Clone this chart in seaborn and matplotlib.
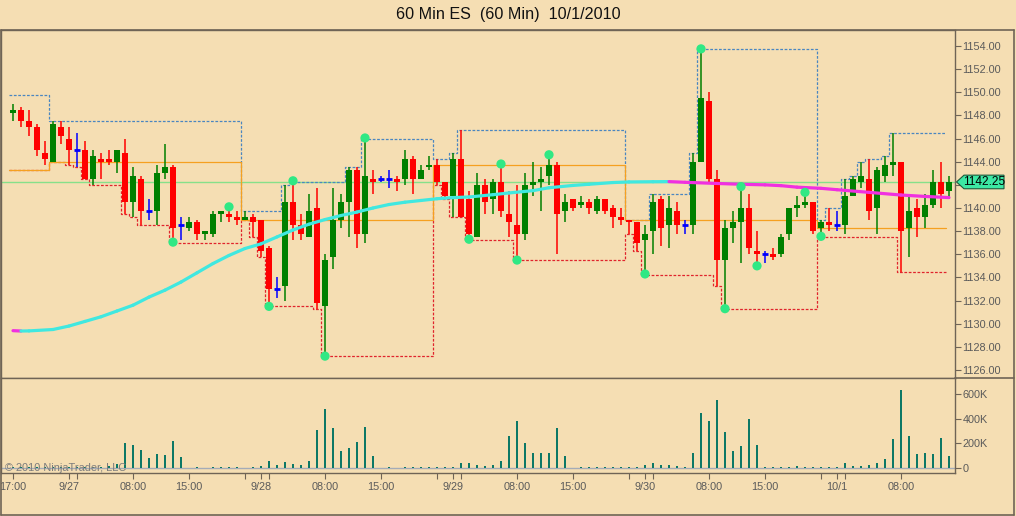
import numpy as np
import pandas as pd
import seaborn as sns
import matplotlib
matplotlib.use("Agg")
import matplotlib.pyplot as plt
from matplotlib.lines import Line2D
from matplotlib.patches import Polygon

# ---------------- data ----------------
opens = [1148.25, 1148.5, 1147.5, 1147.0, 1144.75, 1144.0, 1147.0, 1146.0, 1145.0, 1145.0,
         1142.5, 1144.25, 1144.25, 1144.0, 1144.75, 1140.5, 1142.5, 1139.75, 1139.75, 1143.0,
         1143.5, 1138.5, 1138.25, 1138.75, 1137.75, 1137.75, 1139.5, 1139.5, 1139.25, 1139.0,
         1139.25, 1139.0, 1136.5, 1133.0, 1133.25, 1140.5, 1138.5, 1137.5, 1140.0, 1131.5,
         1135.75, 1139.0, 1140.5, 1143.25, 1137.75, 1142.5, 1142.5, 1142.5, 1142.5, 1142.5,
         1144.25, 1142.5, 1143.5, 1143.75, 1142.25, 1141.0, 1144.25, 1140.75, 1137.5, 1142.0,
         1140.75, 1142.25, 1139.5, 1138.5, 1137.75, 1142.0, 1142.25, 1142.75, 1143.75, 1139.75,
         1140.75, 1140.25, 1140.5, 1139.75, 1140.75, 1140.0, 1139.25, 1139.0, 1138.75, 1137.25,
         1138.0, 1140.75, 1138.5, 1139.75, 1138.5, 1138.5, 1144.0, 1149.25, 1142.5, 1135.5,
         1138.25, 1138.75, 1140.0, 1136.25, 1136.0, 1136.0, 1136.0, 1137.75, 1140.0, 1140.25,
         1140.5, 1138.25, 1138.75, 1138.5, 1138.5, 1141.0, 1142.25, 1142.5, 1140.0, 1142.75,
         1143.75, 1144.0, 1138.25, 1140.0, 1139.25, 1140.25, 1142.25, 1141.5]
highs = [1149.0, 1148.75, 1148.5, 1147.25, 1145.75, 1147.5, 1147.5, 1147.0, 1146.5, 1145.75,
         1145.0, 1144.75, 1145.0, 1145.0, 1146.0, 1143.5, 1142.75, 1140.75, 1143.75, 1145.5,
         1143.75, 1139.25, 1139.25, 1139.0, 1138.0, 1139.75, 1139.75, 1140.0, 1139.75, 1139.75,
         1139.5, 1139.0, 1136.75, 1134.0, 1142.0, 1142.25, 1139.5, 1141.25, 1141.75, 1136.0,
         1141.75, 1141.25, 1143.5, 1143.5, 1146.0, 1143.25, 1142.75, 1143.25, 1142.75, 1145.0,
         1144.5, 1143.75, 1144.5, 1144.25, 1142.25, 1144.75, 1146.75, 1141.5, 1143.0, 1142.5,
         1142.5, 1143.75, 1141.5, 1142.0, 1143.0, 1144.0, 1143.5, 1144.5, 1144.0, 1141.25,
         1140.75, 1141.0, 1140.75, 1141.0, 1140.75, 1140.25, 1140.0, 1139.0, 1138.75, 1138.5,
         1141.25, 1141.0, 1141.0, 1140.5, 1139.0, 1144.75, 1153.75, 1150.0, 1143.25, 1139.0,
         1139.75, 1141.75, 1141.25, 1138.0, 1136.25, 1136.5, 1137.75, 1140.0, 1141.0, 1141.25,
         1140.5, 1139.0, 1140.0, 1139.75, 1142.5, 1142.75, 1144.0, 1144.25, 1143.5, 1144.5,
         1146.5, 1144.0, 1141.25, 1140.75, 1141.25, 1143.25, 1144.0, 1142.75]
lows = [1147.5, 1147.0, 1146.25, 1144.5, 1143.75, 1144.0, 1145.5, 1143.75, 1143.5, 1142.5,
        1142.0, 1142.5, 1143.75, 1143.0, 1139.5, 1139.25, 1138.5, 1139.0, 1138.5, 1142.5,
        1137.0, 1137.25, 1138.0, 1137.25, 1137.25, 1137.5, 1138.75, 1138.75, 1138.5, 1139.0,
        1137.5, 1135.75, 1131.5, 1132.25, 1132.0, 1137.25, 1137.25, 1137.5, 1131.25, 1127.25,
        1134.75, 1138.25, 1137.5, 1136.5, 1137.0, 1141.25, 1142.25, 1141.75, 1141.5, 1142.0,
        1141.25, 1142.5, 1143.25, 1142.0, 1140.75, 1139.25, 1139.25, 1137.25, 1137.5, 1139.5,
        1139.5, 1139.25, 1137.5, 1135.5, 1137.25, 1141.0, 1139.75, 1142.0, 1136.0, 1138.75,
        1139.75, 1140.0, 1139.5, 1139.5, 1139.5, 1138.25, 1138.5, 1137.75, 1136.25, 1134.25,
        1136.0, 1136.75, 1136.5, 1137.75, 1137.75, 1137.75, 1144.0, 1142.25, 1133.25, 1131.25,
        1137.0, 1135.25, 1136.0, 1135.25, 1135.25, 1135.5, 1135.75, 1137.25, 1139.25, 1140.0,
        1137.75, 1137.5, 1138.0, 1138.0, 1137.75, 1141.0, 1141.75, 1139.0, 1137.75, 1142.25,
        1142.75, 1134.5, 1135.75, 1137.5, 1138.25, 1140.0, 1140.0, 1140.75]
closes = [1148.5, 1147.5, 1147.0, 1145.0, 1144.25, 1147.25, 1146.25, 1145.0, 1145.0, 1142.5,
          1144.5, 1144.0, 1144.0, 1145.0, 1140.5, 1142.75, 1139.75, 1139.75, 1143.0, 1143.5,
          1138.25, 1138.5, 1138.75, 1137.75, 1138.0, 1139.5, 1139.75, 1139.25, 1139.0, 1139.25,
          1138.75, 1136.25, 1133.0, 1133.0, 1140.5, 1138.5, 1137.75, 1139.75, 1131.75, 1135.5,
          1139.0, 1140.5, 1143.25, 1137.75, 1142.75, 1142.25, 1142.5, 1142.5, 1142.25, 1144.25,
          1142.5, 1143.25, 1143.75, 1142.25, 1141.0, 1144.25, 1139.25, 1137.75, 1142.0, 1140.5,
          1142.25, 1139.75, 1138.75, 1137.75, 1142.0, 1142.25, 1142.5, 1143.75, 1139.5, 1140.5,
          1140.0, 1140.5, 1140.0, 1140.75, 1139.75, 1139.25, 1139.0, 1138.75, 1137.0, 1137.75,
          1140.5, 1138.25, 1140.0, 1138.5, 1138.5, 1144.0, 1149.5, 1142.5, 1135.5, 1138.25,
          1138.75, 1140.0, 1136.5, 1136.0, 1136.0, 1135.75, 1137.5, 1140.0, 1140.25, 1140.5,
          1138.0, 1138.75, 1138.5, 1138.5, 1141.0, 1142.5, 1142.75, 1139.75, 1143.25, 1143.75,
          1144.0, 1138.0, 1139.75, 1139.25, 1140.25, 1142.25, 1141.25, 1142.25]
volume_k = [6, 5, 8, 10, 8, 10, 8, 6, 8, 10, 8, 10, 18, 35,
            203, 189, 149, 84, 116, 108, 221, 92, 3, 8, 2, 6, 6, 6, 6, 4,
            8, 19, 59, 27, 51, 36, 28, 59, 311, 481, 321, 140, 159, 208, 335, 100,
            2, 8, 2, 8, 8, 8, 8, 8, 8, 8, 40, 40, 24, 19, 24, 59, 262, 378, 205,
            124, 124, 124, 321, 100, 2, 8, 8, 8, 8, 8, 8, 8, 8, 27, 43, 24, 27, 19,
            11, 119, 443, 378, 553, 289, 140, 181, 394, 189, 8, 8, 8, 8, 19, 8, 8,
            8, 8, 8, 43, 19, 19, 27, 43, 76, 232, 635, 262, 111, 124, 116, 240, 100]

# session (CurrentDayOHL) definition
session_starts = [5, 29, 53, 77, 101]
prior_session_high = 1149.75
prior_session_open = 1143.25
prior_session_low = 1143.25

# moving average (bar index, value)
ma_bars = [0, 1, 2, 5, 7, 9, 11, 13, 15, 17, 19, 21, 23, 25, 27, 29, 31, 33, 35, 37, 39,
           41, 43, 45, 47, 49, 51, 53, 55, 57, 60, 62, 65, 67, 70, 72, 75, 77, 80, 82,
           84, 88, 91, 94, 96, 98, 101, 103, 107, 111, 114, 117]
ma_values = [1129.4, 1129.37, 1129.38, 1129.5, 1129.8, 1130.2, 1130.6, 1131.1, 1131.6, 1132.3,
             1132.9, 1133.6, 1134.4, 1135.2, 1135.9, 1136.5, 1136.9, 1137.5, 1138.1, 1138.6,
             1139.0, 1139.35, 1139.65, 1140.0, 1140.3, 1140.5, 1140.65, 1140.8, 1140.9, 1140.95,
             1141.15, 1141.3, 1141.5, 1141.75, 1141.95, 1142.05, 1142.2, 1142.25, 1142.27, 1142.28,
             1142.22, 1142.12, 1142.05, 1142.0, 1141.93, 1141.8, 1141.7, 1141.58, 1141.35, 1141.12,
             1141.0, 1140.9]

# swing points
swing_high_bars = [27, 35, 44, 61, 67, 86, 91, 99]
swing_high_prices = [1140.1, 1142.35, 1146.05, 1143.8, 1144.6, 1153.75, 1141.85, 1141.35]
swing_low_bars = [20, 32, 39, 57, 63, 79, 89, 93, 101]
swing_low_prices = [1137.05, 1131.5, 1127.2, 1137.3, 1135.5, 1134.3, 1131.3, 1135.0, 1137.55]

last_price = 1142.25

tick_bars = [0, 7, 8, 15, 22, 29, 31, 32, 39, 46, 53, 55, 56, 63, 70, 77, 79, 80, 87, 94, 101, 103, 104, 111]
tick_texts = ["17:00", "9/27", "", "08:00", "15:00", "", "9/28", "", "08:00", "15:00", "", "9/29", "",
              "08:00", "15:00", "", "9/30", "", "08:00", "15:00", "", "10/1", "", "08:00"]

price_ticks = list(range(1126, 1156, 2))
volume_ticks = [0, 200, 400, 600]
volume_tick_texts = ["0", "200K", "400K", "600K"]

title_text = "60 Min ES  (60 Min)  10/1/2010"
copyright_text = "\u00a9 2010 NinjaTrader, LLC"

# ---------------- style ----------------
WHEAT = "#F5DEB3"
FRAME = "#6f6456"
TXT = "#5a5a5a"
sns.set_theme(style="ticks", rc={"axes.facecolor": WHEAT, "figure.facecolor": WHEAT,
                                 "axes.edgecolor": FRAME, "axes.linewidth": 1.0,
                                 "xtick.color": FRAME, "ytick.color": FRAME})
plt.rcParams["font.family"] = ["Liberation Sans", "DejaVu Sans"]

df = pd.DataFrame({"open": opens, "high": highs, "low": lows, "close": closes, "volume": volume_k})
df["bar"] = np.arange(len(df))
n = len(df)

# session high/open/low
sess_high, sess_low, sess_open = [], [], []
cur_h, cur_l, cur_o = prior_session_high, prior_session_low, prior_session_open
for i in range(n):
    if i in session_starts:
        cur_h, cur_l, cur_o = highs[i], lows[i], opens[i]
    elif i >= session_starts[0]:
        cur_h = max(cur_h, highs[i])
        cur_l = min(cur_l, lows[i])
    sess_high.append(cur_h)
    sess_low.append(cur_l)
    sess_open.append(cur_o)

W, H = 1016, 516
fig = plt.figure(figsize=(W / 100, H / 100), dpi=100)

def fx(px):
    return px / W

def fy(py):
    return 1 - py / H

ax = fig.add_axes([fx(1), fy(378), fx(955) - fx(1), fy(30) - fy(378)])
axv = fig.add_axes([fx(1), fy(473), fx(955) - fx(1), fy(378) - fy(473)], sharex=ax)

xmin, xmax = -1.5, 117.75
ymin, ymax = 1125.31, 1155.38
ax.set_xlim(xmin, xmax)
ax.set_ylim(ymin, ymax)

# last price line
ax.axhline(last_price, color="#86e08a", lw=1.0, zorder=1)

# session lines
edges = np.append(df["bar"].values - 0.5, df["bar"].values[-1] - 0.4)
ax.step(edges, sess_high + [sess_high[-1]], where="post", color="#4a86c0", lw=0.9,
        linestyle=(0, (2.2, 1.3)), zorder=2)
ax.step(edges, sess_low + [sess_low[-1]], where="post", color="#e0242c", lw=0.9,
        linestyle=(0, (2.2, 1.3)), zorder=2)
ax.step(edges, sess_open + [sess_open[-1]], where="post", color="#f5a020", lw=0.9, zorder=2.1)

# candles
up = df["close"] > df["open"]
down = df["close"] < df["open"]
colors = np.where(up, "#008000", np.where(down, "#ff0000", "#0000ff"))
ax.vlines(df["bar"], df["low"], df["high"], colors=colors, lw=1.1, zorder=3)
body_lo = np.minimum(df["open"], df["close"])
body_h = np.abs(df["close"] - df["open"])
nz = body_h > 0
ax.bar(df["bar"][nz], body_h[nz], bottom=body_lo[nz], width=0.64, color=colors[nz.values],
       linewidth=0, zorder=3)
dj = ~nz
ax.hlines(df["open"][dj], df["bar"][dj] - 0.32, df["bar"][dj] + 0.32, colors=colors[dj.values],
          lw=2.0, zorder=3)

# moving average, cyan when rising, magenta when falling
ma_df = pd.DataFrame({"bar": ma_bars, "ma": ma_values})
for k in range(len(ma_bars) - 1):
    seg = ma_df.iloc[k:k + 2]
    c = "#40e8e0" if ma_values[k + 1] >= ma_values[k] else "#f030e0"
    ax.plot(seg["bar"], seg["ma"], color=c, lw=2.3, solid_capstyle="round", zorder=4)

# swing dots
dots = pd.DataFrame({"bar": swing_high_bars + swing_low_bars,
                     "price": swing_high_prices + swing_low_prices})
sns.scatterplot(data=dots, x="bar", y="price", ax=ax, color="#30e884", s=44,
                edgecolor="none", zorder=5, legend=False)

# price axis (the 1142.00 label sits under the last-price marker)
ax.yaxis.tick_right()
ax.set_yticks(price_ticks)
ax.set_yticklabels(["" if abs(p - last_price) < 0.5 else f"{p:.2f}" for p in price_ticks])
ax.tick_params(axis="y", direction="out", length=4, width=0.8, labelsize=7.8,
               labelcolor=TXT, pad=1.5)
ax.tick_params(axis="x", bottom=False, labelbottom=False)
ax.set_xlabel("")
ax.set_ylabel("")
for s in ["top", "left", "bottom", "right"]:
    ax.spines[s].set_visible(True)
    ax.spines[s].set_color(FRAME)

# volume
axv.set_ylim(-40.6, 731)
axv.axhline(0, color="#a4acb8", lw=1.0, zorder=1)
axv.bar(df["bar"], df["volume"], width=0.3, color="#0d7866", linewidth=0, zorder=2)
axv.yaxis.tick_right()
axv.set_yticks(volume_ticks)
axv.set_yticklabels(volume_tick_texts)
axv.tick_params(axis="y", direction="out", length=4, width=0.8, labelsize=7.8,
                labelcolor=TXT, pad=1.5)
axv.set_xticks(tick_bars)
axv.set_xticklabels(tick_texts)
axv.tick_params(axis="x", direction="out", length=4, width=0.8, labelsize=7.8,
                labelcolor=TXT, pad=2.5)
axv.set_xlim(xmin, xmax)
axv.set_xlabel("")
axv.set_ylabel("")
for s in ["top", "left", "bottom", "right"]:
    axv.spines[s].set_visible(True)
    axv.spines[s].set_color(FRAME)

axv.text(fx(4), 0, copyright_text, transform=axv.get_yaxis_transform(), fontsize=7.9,
         color="#7c7c7c", va="center", ha="left", zorder=6)

# outer frame
for (x0, y0, x1, y1) in [(1, 30, 1014, 30), (1014, 30, 1014, 515), (1, 515, 1014, 515),
                         (1, 30, 1, 515), (955, 378, 1014, 378)]:
    fig.add_artist(Line2D([fx(x0), fx(x1)], [fy(y0), fy(y1)], color=FRAME, lw=1.2))

# title
fig.text(0.5, fy(14), title_text, ha="center", va="center", fontsize=11.6,
         family=["Liberation Sans Narrow", "Liberation Sans", "DejaVu Sans"], color="#111111")

# last price marker
ypix = 30 + (ymax - last_price) / (ymax - ymin) * (378 - 30)
pts = [(956.5, ypix), (964, ypix - 6.8), (1004, ypix - 6.8), (1004, ypix + 6.8), (964, ypix + 6.8)]
fig.add_artist(Polygon([(fx(a), fy(b)) for a, b in pts], closed=True, transform=fig.transFigure,
                       facecolor="#3ce8a4", edgecolor="#1c5a3c", lw=0.8, zorder=5))
fig.text(fx(984), fy(ypix), f"{last_price:.2f}", ha="center", va="center", fontsize=8.6,
         color="#000000", zorder=6)

fig.savefig("out.png", dpi=100, facecolor=WHEAT)
